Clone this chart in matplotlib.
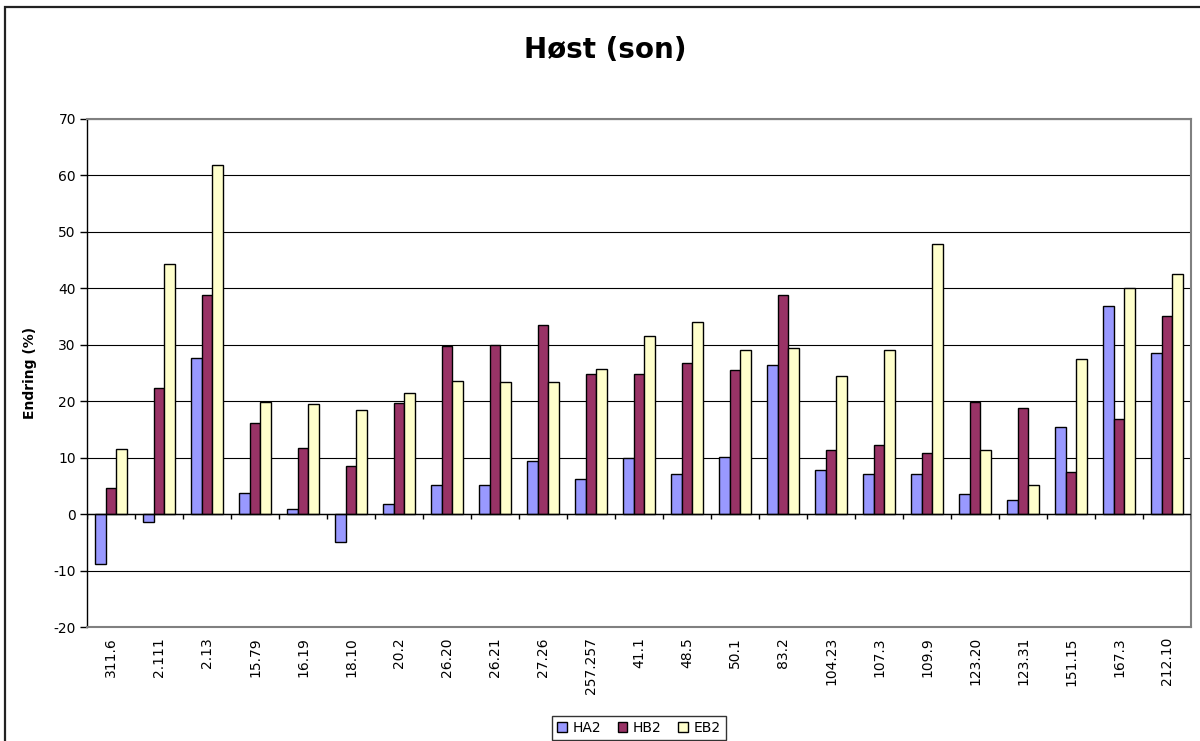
import matplotlib
matplotlib.use("Agg")
import matplotlib.pyplot as plt
import numpy as np
from matplotlib.patches import Rectangle

plt.rcParams['font.family'] = ['DejaVu Sans']

categories = ["311.6", "2.111", "2.13", "15.79", "16.19", "18.10", "20.2", "26.20",
              "26.21", "27.26", "257.257", "41.1", "48.5", "50.1", "83.2", "104.23",
              "107.3", "109.9", "123.20", "123.31", "151.15", "167.3", "212.10"]
ha2 = [-8.8, -1.4, 27.6, 3.7, 1.0, -4.9, 1.9, 5.2, 5.2, 9.5, 6.3, 9.9, 7.2, 10.1,
       26.5, 7.9, 7.2, 7.2, 3.6, 2.6, 15.4, 36.9, 28.5]
hb2 = [4.6, 22.3, 38.9, 16.2, 11.8, 8.5, 19.7, 29.7, 29.9, 33.5, 24.9, 24.9, 26.8,
       25.6, 38.9, 11.4, 12.2, 10.9, 19.9, 18.8, 7.5, 16.9, 35.1]
eb2 = [11.6, 44.3, 61.9, 19.9, 19.5, 18.4, 21.4, 23.6, 23.4, 23.5, 25.8, 31.6, 34.1,
       29.0, 29.5, 24.5, 29.0, 47.9, 11.4, 5.1, 27.5, 40.1, 42.5]
series_names = ["HA2", "HB2", "EB2"]
series_colors = ["#9999FF", "#993366", "#FFFFCC"]
yticks = [-20, -10, 0, 10, 20, 30, 40, 50, 60, 70]

W, H = 1200, 741
fig = plt.figure(figsize=(W / 100, H / 100), dpi=100)
fig.patch.set_facecolor("white")

# outer chart frame (extends past right/bottom edges)
fig.add_artist(Rectangle((5 / W, -0.05), 1.2, 1 - 7 / H + 0.05, transform=fig.transFigure,
                         fill=False, edgecolor="#222222", linewidth=1.6))

ax = fig.add_axes([87 / W, 1 - 627.3 / H, (1191 - 87) / W, (627.3 - 118.8) / H])
n = len(categories)
x = np.arange(n)
bw = 1 / 4.5

for i, (vals, name, col) in enumerate(zip([ha2, hb2, eb2], series_names, series_colors)):
    ax.bar(x + (i - 1) * bw, vals, width=bw, color=col, edgecolor="black",
           linewidth=1.0, label=name, zorder=3)

ax.set_xlim(-0.5, n - 0.5)
ax.set_ylim(-20, 70)
ax.set_yticks(yticks)
ax.set_yticklabels([str(v) for v in yticks], fontsize=10)
ax.tick_params(axis='y', direction='out', length=5, width=1, color="black", pad=3)

# gridlines
for v in yticks[1:]:
    ax.axhline(v, color="black", linewidth=0.8, zorder=1)

# zero axis with category divider ticks
ax.axhline(0, color="black", linewidth=1.0, zorder=4)
ax.vlines(np.arange(n + 1) - 0.5, -0.9, 0, color="black", linewidth=1.0, zorder=4)

ax.set_xticks(x)
ax.set_xticklabels(categories, rotation=90, fontsize=10, va="top", ha="center")
ax.tick_params(axis='x', length=0, pad=7)

for side in ["top", "right", "bottom"]:
    ax.spines[side].set_color("#808080")
    ax.spines[side].set_linewidth(1.5)
ax.spines["left"].set_color("black")
ax.spines["left"].set_linewidth(1.0)

ax.set_ylabel("Endring (%)", fontsize=10, fontweight="bold", labelpad=12)

fig.text(605 / W, 1 - 50 / H, "Høst (son)", fontsize=20, fontweight="bold",
         ha="center", va="center")

leg = fig.legend(loc="center", bbox_to_anchor=(639 / W, 1 - 728 / H), ncol=3,
                 fontsize=10, frameon=True, fancybox=False, handlelength=0.7,
                 handleheight=0.7, handletextpad=0.4, columnspacing=1.2,
                 borderpad=0.35, borderaxespad=0)
leg.get_frame().set_edgecolor("black")
leg.get_frame().set_linewidth(1.0)

fig.savefig("out.png", dpi=100)
